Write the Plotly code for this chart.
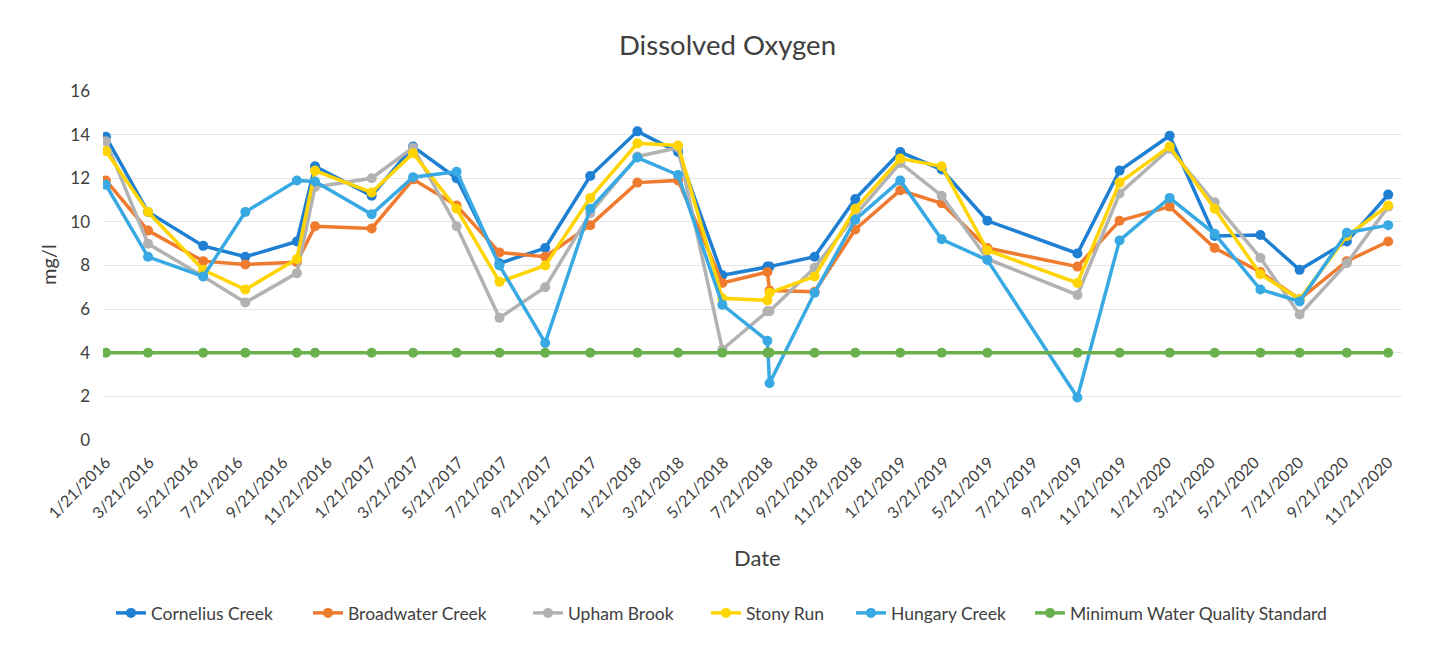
import plotly.graph_objects as go

dates = ["2016-01-21", "2016-03-19", "2016-06-03", "2016-07-31", "2016-10-10", "2016-11-04",
         "2017-01-21", "2017-03-19", "2017-05-18", "2017-07-16", "2017-09-17", "2017-11-18",
         "2018-01-22", "2018-03-19", "2018-05-19", "2018-07-20", "2018-07-23", "2018-09-23",
         "2018-11-18", "2019-01-19", "2019-03-17", "2019-05-19", "2019-09-20", "2019-11-17",
         "2020-01-25", "2020-03-27", "2020-05-29", "2020-07-22", "2020-09-25", "2020-11-21"]

cornelius = [13.9, 10.45, 8.9, 8.4, 9.1, 12.55, 11.2, 13.45, 12.0, 8.1, 8.8, 12.1,
             14.15, 13.2, 7.55, 7.95, 7.95, 8.4, 11.05, 13.2, 12.4, 10.05, 8.55, 12.35,
             13.95, 9.35, 9.4, 7.8, 9.1, 11.25]
broadwater = [11.9, 9.6, 8.2, 8.05, 8.15, 9.8, 9.7, 11.95, 10.75, 8.6, 8.4, 9.85,
              11.8, 11.9, 7.2, 7.7, 6.85, 6.8, 9.65, 11.45, 10.85, 8.8, 7.95, 10.05,
              10.7, 8.8, 7.7, 6.45, 8.2, 9.1]
upham = [13.7, 9.0, 7.5, 6.3, 7.65, 11.6, 12.0, 13.4, 9.8, 5.6, 7.0, 10.4,
         13.0, 13.4, 4.15, 5.9, 5.9, 7.9, 10.3, 12.7, 11.2, 8.3, 6.65, 11.3,
         13.35, 10.9, 8.35, 5.75, 8.1, 10.7]
stony = [13.25, 10.45, 7.8, 6.9, 8.3, 12.35, 11.35, 13.15, 10.6, 7.25, 8.0, 11.1,
         13.6, 13.5, 6.5, 6.4, 6.75, 7.5, 10.6, 12.9, 12.55, 8.7, 7.2, 11.8,
         13.45, 10.6, 7.6, 6.45, 9.35, 10.75]
hungary = [11.7, 8.4, 7.5, 10.45, 11.9, 11.85, 10.35, 12.05, 12.3, 8.0, 4.45, 10.6,
           12.95, 12.15, 6.2, 4.55, 2.6, 6.75, 10.1, 11.9, 9.2, 8.25, 1.95, 9.15,
           11.1, 9.45, 6.9, 6.35, 9.5, 9.85]
standard = [4.0] * len(dates)

tick_dates = []
tick_labels = []
for yr in range(2016, 2021):
    for mo in (1, 3, 5, 7, 9, 11):
        tick_dates.append(f"{yr}-{mo:02d}-21")
        tick_labels.append(f"{mo}/21/{yr}")

y_ticks = [0, 2, 4, 6, 8, 10, 12, 14, 16]

series = [
    ("Cornelius Creek", cornelius, "#1f7fd2"),
    ("Broadwater Creek", broadwater, "#ef7b2f"),
    ("Upham Brook", upham, "#b2b2b2"),
    ("Stony Run", stony, "#ffd400"),
    ("Hungary Creek", hungary, "#38a9e3"),
    ("Minimum Water Quality Standard", standard, "#6ab04c"),
]
# screen x where each legend entry's text begins in the reference
legend_text_x = [153, 350, 570, 748, 893, 1072]

FONT = "Lato, 'Open Sans', sans-serif"
TEXT = "#404040"
W, H = 1452, 645
L, T, PW, PH = 95, 83, 1299, 349
OFF = 8  # page margin of the browser

fig = go.Figure()
legend_layouts = {}
for i, (name, vals, col) in enumerate(series):
    key = "legend" if i == 0 else f"legend{i + 1}"
    fig.add_trace(go.Scatter(
        x=dates, y=vals, name=name, mode="lines+markers",
        line=dict(color=col, width=3.5),
        marker=dict(color=col, size=10),
        legend=key,
    ))
    lx = (legend_text_x[i] - OFF - L - 42) / PW
    legend_layouts[key] = dict(
        orientation="h", x=lx, xanchor="left",
        y=(T + PH - (613 - OFF)) / PH, yanchor="middle",
        font=dict(size=17.5, color=TEXT, family=FONT), bgcolor="rgba(0,0,0,0)",
    )

fig.update_layout(
    width=W, height=H,
    margin=dict(l=L, r=W - L - PW, t=T, b=H - T - PH),
    paper_bgcolor="white", plot_bgcolor="white",
    font=dict(family=FONT, size=15, color=TEXT),
    title=dict(text="Dissolved Oxygen", x=(727.5 - OFF) / W, xanchor="center",
               y=1 - 37 / H, yanchor="middle",
               font=dict(size=27.5, color=TEXT, family=FONT)),
    showlegend=True,
    xaxis=dict(type="date", range=["2016-01-17", "2020-12-10"],
               tickvals=tick_dates, ticktext=tick_labels, tickangle=-45,
               showgrid=False, showline=False, zeroline=False, ticks="",
               ticklabelstandoff=9,
               tickfont=dict(size=16, color=TEXT)),
    yaxis=dict(range=[0, 16], tickvals=y_ticks, showgrid=True, gridcolor="#e6e6e6",
               gridwidth=1, zeroline=False, showline=False, ticks="",
               ticklabelstandoff=12,
               tickfont=dict(size=17, color=TEXT)),
    annotations=[
        dict(text="Date", xref="paper", yref="paper", x=(757 - OFF - L) / PW,
             y=(T + PH - (557 - OFF)) / PH,
             showarrow=False, xanchor="center", yanchor="middle",
             font=dict(size=22, color=TEXT)),
        dict(text="mg/l", xref="paper", yref="paper", x=(48 - OFF - L) / PW,
             y=(T + PH - (265 - OFF)) / PH,
             showarrow=False, xanchor="center", yanchor="middle", textangle=-90,
             font=dict(size=20, color=TEXT)),
    ],
    **legend_layouts,
)

fig.write_html("out.html")
